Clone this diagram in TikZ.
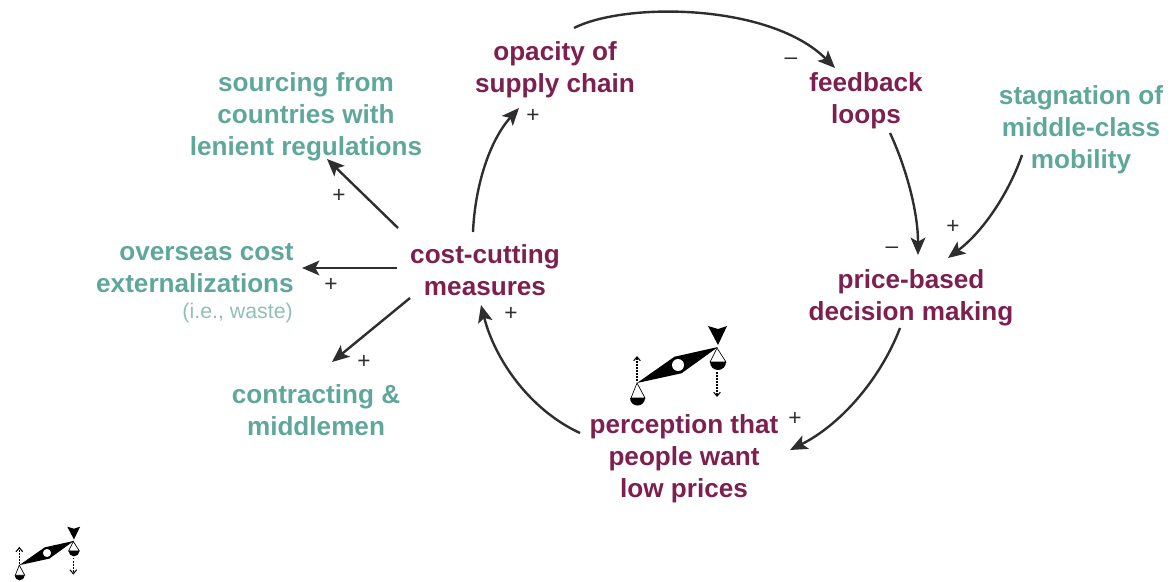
\documentclass[tikz,border=0pt]{standalone}
\usepackage{fontspec}
\setmainfont{Liberation Sans}
\usetikzlibrary{arrows.meta}
\definecolor{maroon}{HTML}{7D1F4F}
\definecolor{tealish}{HTML}{5FA79A}
\definecolor{softteal}{HTML}{8FBFB6}
\definecolor{inkdark}{HTML}{2E2E2E}
\tikzset{
  x=0.75pt,y=-0.75pt,
  mainlabel/.style={text=maroon,font=\fontsize{19.6}{24}\selectfont\bfseries,align=center,inner sep=0pt},
  sidelabel/.style={text=tealish,font=\fontsize{19.6}{24}\selectfont\bfseries,align=center,inner sep=0pt},
  signlabel/.style={text=inkdark,font=\fontsize{17}{17}\selectfont,inner sep=0pt},
  conn/.style={draw=inkdark,line width=1.8pt,-{Stealth[length=13pt,width=11pt,inset=3pt]}},
  pics/balance/.style={code={
    \fill[black] (-41,18) -- (-3.5,-8.3) -- (40,-18) -- (3.5,8.3) -- cycle;
    \fill[white] (0,0) circle (6);
    \draw[black,line width=.5pt] (39,-17) -- (32,-3) -- (48,-3) -- cycle;
    \fill[black] (32,-3) arc[start angle=180,end angle=0,radius=8] -- cycle;
    \draw[black,line width=.5pt] (-41,18) -- (-47,33) -- (-33,33) -- cycle;
    \fill[black] (-48,33) arc[start angle=180,end angle=0,radius=7.5] -- cycle;
    \fill[black] (30,-39) -- (40,-36) -- (49,-39) -- (40,-20) -- cycle;
    \draw[black,line width=.8pt,dash pattern=on 1.3pt off 1pt,-{Straight Barb[length=3pt,width=5pt]}] (-41,16) -- (-41,-9);
    \draw[black,line width=.8pt,dash pattern=on 1.3pt off 1pt,-{Straight Barb[length=3pt,width=5pt]}] (39,7) -- (39,32);
  }}
}
\begin{document}
\begin{tikzpicture}
\useasboundingbox (0,0) rectangle (1176,581);
\node[mainlabel] (opacity) at (555,70) {opacity of\\supply chain};
\node[mainlabel] (feedback) at (866,101) {feedback\\loops};
\node[mainlabel] (price) at (911,298) {price-based\\decision making};
\node[mainlabel] (perception) at (684,459) {perception that\\people want\\low prices};
\node[mainlabel] (cost) at (485,270) {cost-cutting\\measures};
\node[sidelabel] (sourcing) at (306,117) {sourcing from\\countries with\\lenient regulations};
\node[sidelabel,anchor=east,align=right] (overseas) at (294,268) {overseas cost\\externalizations};
\node[text=softteal,font=\fontsize{16}{18}\selectfont,anchor=east,inner sep=0pt] (waste) at (293,313) {(i.e., waste)};
\node[sidelabel] (contracting) at (316,410) {contracting \&\\middlemen};
\node[sidelabel] (stagnation) at (1081,130) {stagnation of\\middle-class\\mobility};

\draw[conn] ([shift={(-12,-38)}]cost.center) .. controls (475,185) and (490,140) .. ([shift={(-36,38)}]opacity.center);
\draw[conn] ([shift={(19,-42)}]opacity.center) .. controls (625,2) and (770,3) .. ([shift={(-31,-33)}]feedback.center);
\draw[conn] ([shift={(24,32)}]feedback.center) .. controls (905,165) and (918,210) .. ([shift={(7,-43)}]price.center);
\draw[conn] ([shift={(-59,25)}]stagnation.center) .. controls (1010,190) and (985,230) .. ([shift={(37,-40)}]price.center);
\draw[conn] ([shift={(-11,30)}]price.center) .. controls (880,380) and (840,425) .. ([shift={(106,-9)}]perception.center);
\draw[conn] ([shift={(-104,-26)}]perception.center) .. controls (530,410) and (495,360) .. ([shift={(-4,35)}]cost.center);
\draw[conn] ([shift={(-87,-42)}]cost.center) -- ([shift={(21,42)}]sourcing.center);
\draw[conn] ([shift={(-88,-2)}]cost.center) -- ([shift={(8,0)}]overseas.east);
\draw[conn] ([shift={(-75,28)}]cost.center) -- ([shift={(16,-48)}]contracting.center);

\node[signlabel] (s1) at (533,116) {+};
\node[signlabel] (s2) at (791,61) {–};
\node[signlabel] (s3) at (892,250) {–};
\node[signlabel] (s4) at (953,227) {+};
\node[signlabel] (s5) at (795,419) {+};
\node[signlabel] (s6) at (511,314) {+};
\node[signlabel] (s7) at (339,196) {+};
\node[signlabel] (s8) at (331,285) {+};
\node[signlabel] (s9) at (364,362) {+};

\pic at (678,365) {balance};
\pic[scale=.675] at (47,553) {balance};
\end{tikzpicture}
\end{document}
